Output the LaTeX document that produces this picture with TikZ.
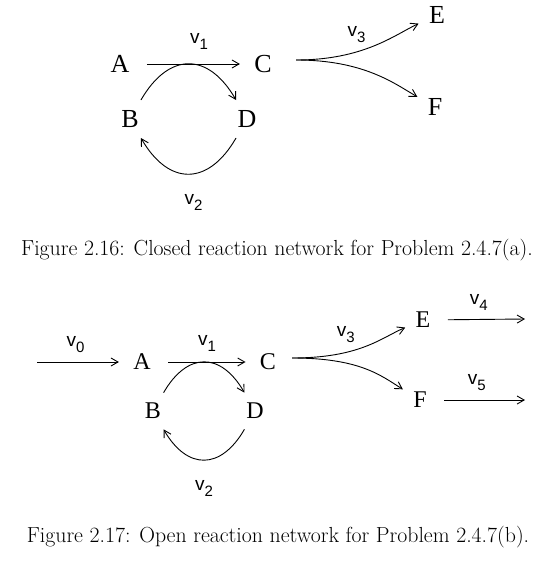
\documentclass[tikz,border=0pt]{standalone}
\usepackage{fontspec}
\newfontfamily\timesfont{Liberation Serif}
\newfontfamily\helvfont{Liberation Sans}
\usetikzlibrary{arrows.meta}

\newcommand{\rate}[1]{{\helvfont\fontsize{19}{19}\selectfont v\raisebox{-6pt}{\fontsize{15}{15}\selectfont #1}}}

\begin{document}
\begin{tikzpicture}[x=1pt,y=1pt,line width=0.9pt,
	species/.style={font=\timesfont\fontsize{26}{26}\selectfont, inner sep=10pt},
	small species/.style={species, font=\timesfont\fontsize{24}{24}\selectfont},
	label/.style={inner sep=0pt},
	react/.style={-{Straight Barb[length=7pt,width=8pt]}},
	flux/.style={react, shorten <=7pt, shorten >=4pt},
	branch/.style={react, out distance=68pt, in distance=26pt},
	caption/.style={font=\fontsize{21.8}{24}\selectfont}]
	\useasboundingbox (0,0) rectangle (545,-570);
	% closed network
	\node[species] (a) at (120,-64) {A};
	\node[species] (c) at (263,-64) {C};
	\node[species] (b) at (130,-119) {B};
	\node[species] (d) at (247,-119) {D};
	\node[species] (e) at (437,-15) {E};
	\node[species] (f) at (435,-107) {F};
	\coordinate (split) at (296,-60);
	\draw[flux] (a) -- node[label, above=14pt, pos=0.57] {\rate{1}} (c);
	\draw[react] (b) to[out=60, in=120, looseness=1.5] (d);
	\draw[react] (d) to[out=-120, in=-60, looseness=1.5]
		node[label, below=20pt, pos=0.45] {\rate{2}} (b);
	\draw[branch] (split) to[out=0, in=205]
		node[label, pos=0.36, above=9pt] {\rate{3}} (e);
	\draw[branch] (split) to[out=0, in=150] (f);
	\node[caption] (cap1) at (277,-250)
		{Figure 2.16: Closed reaction network for Problem 2.4.7(a).};
	% open network
	\node[small species] (a2) at (142,-362) {A};
	\node[small species] (c2) at (268,-362) {C};
	\node[small species] (b2) at (153,-411) {B};
	\node[small species] (d2) at (255,-411) {D};
	\node[small species] (e2) at (423,-320) {E};
	\node[small species] (f2) at (420,-400) {F};
	\coordinate (in0) at (37,-362);
	\coordinate (split2) at (292,-358);
	\coordinate (out4) at (525,-319);
	\coordinate (out5) at (525,-400);
	\draw[flux, shorten <=0pt] (in0) -- node[label, above=9pt, pos=0.45] {\rate{0}} (a2);
	\draw[flux] (a2) -- node[label, above=10pt, pos=0.52] {\rate{1}} (c2);
	\draw[react] (b2) to[out=60, in=120, looseness=1.5] (d2);
	\draw[react] (d2) to[out=-120, in=-60, looseness=1.5]
		node[label, below=20pt] {\rate{2}} (b2);
	\draw[branch] (split2) to[out=0, in=203]
		node[label, pos=0.33, above=9pt] {\rate{3}} (e2);
	\draw[branch] (split2) to[out=0, in=148] (f2);
	\draw[flux, shorten >=0pt] (e2) -- node[label, above=9pt, pos=0.45] {\rate{4}} (out4);
	\draw[flux, shorten >=0pt] (f2) -- node[label, above=9pt, pos=0.45] {\rate{5}} (out5);
	\node[caption] (cap2) at (278,-537)
		{Figure 2.17: Open reaction network for Problem 2.4.7(b).};
\end{tikzpicture}
\end{document}
